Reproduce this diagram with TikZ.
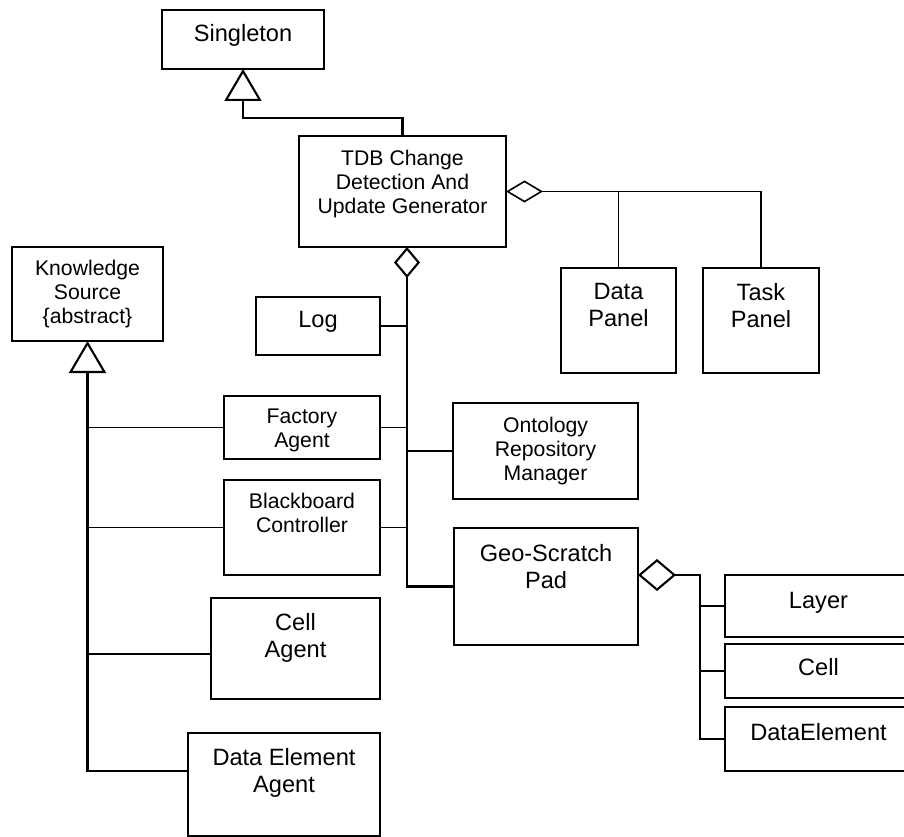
\documentclass[tikz,border=0pt]{standalone}
\usepackage{fontspec}
\setmainfont{Liberation Sans}
\usetikzlibrary{positioning,arrows.meta}
\newcommand{\bigText}{\fontsize{23.6}{27}\selectfont}
\newcommand{\smallText}{\fontsize{21.2}{24}\selectfont}
\tikzset{
  class box/.style={draw,line width=2pt,inner sep=0pt,outer sep=0pt},
  class name/.style={inner sep=0pt,align=center,font=\bigText},
  small name/.style={class name,font=\smallText},
  link/.style={line width=1.6pt},
  trunk/.style={line width=2.1pt},
}

\begin{document}
\begin{tikzpicture}[x=1pt,y=-1pt]
   \clip (0,0) rectangle (904,837);
   \fill[white] (0,0) rectangle (904,837);

   % NODES
   \node[class box,minimum width=162pt,minimum height=59pt] (singleton) at (243,39.5) {};
   \node[class box,minimum width=207pt,minimum height=111pt] (tdb) at (402.5,191.5) {};
   \node[class box,minimum width=151pt,minimum height=94pt] (ks) at (87.5,294) {}; % abstract
   \node[class box,minimum width=124pt,minimum height=58pt] (log) at (318,326) {};
   \node[class box,minimum width=156pt,minimum height=63pt] (factory) at (302,427.5) {};
   \node[class box,minimum width=185pt,minimum height=96pt] (onto) at (545.5,451) {};
   \node[class box,minimum width=156pt,minimum height=95pt] (bboard) at (302,527.5) {};
   \node[class box,minimum width=184pt,minimum height=117pt] (geo) at (546,586.5) {};
   \node[class box,minimum width=115pt,minimum height=105pt] (dataPanel) at (618.5,320.5) {};
   \node[class box,minimum width=116pt,minimum height=105pt] (taskPanel) at (761,320.5) {};
   \node[class box,minimum width=187pt,minimum height=62pt] (layer) at (818.5,606) {};
   \node[class box,minimum width=187pt,minimum height=54pt] (cell) at (818.5,671) {};
   \node[class box,minimum width=187pt,minimum height=64pt] (dataElem) at (818.5,739) {};
   \node[class box,minimum width=169pt,minimum height=101pt] (cellAgent) at (295.5,648.5) {};
   \node[class box,minimum width=192pt,minimum height=103pt] (dataElemAgent) at (284,784.5) {};

   % NAMES
   \node[class name,below=14pt of singleton.north] (singletonTxt) {Singleton};
   \node[small name,below=14pt of tdb.north] (tdbTxt) {TDB Change\\Detection And\\Update Generator};
   \node[small name,below=13pt of ks.north] (ksTxt) {Knowledge\\Source\\\{abstract\}};
   \node[class name,below=14pt of log.north] (logTxt) {Log};
   \node[small name,below=13pt of factory.north] (factoryTxt) {Factory\\Agent};
   \node[small name,below=14pt of onto.north] (ontoTxt) {Ontology\\Repository\\Manager};
   \node[small name,below=13pt of bboard.north] (bboardTxt) {Blackboard\\Controller};
   \node[class name,below=16pt of geo.north] (geoTxt) {Geo-Scratch\\Pad};
   \node[class name,below=15pt of dataPanel.north] (dataPanelTxt) {Data\\Panel};
   \node[class name,below=15pt of taskPanel.north] (taskPanelTxt) {Task\\Panel};
   \node[class name,below=17pt of layer.north] (layerTxt) {Layer};
   \node[class name,below=14pt of cell.north] (cellTxt) {Cell};
   \node[class name,below=16pt of dataElem.north] (dataElemTxt) {DataElement};
   \node[class name,below=15pt of cellAgent.north] (cellAgentTxt) {Cell\\Agent};
   \node[class name,below=15pt of dataElemAgent.north] (dataElemAgentTxt) {Data Element\\Agent};

   % JOINS
   \coordinate (tdbJoin) at ([xshift=4.5pt]tdb.south);
   \coordinate (geoJoin) at ([yshift=11.5pt]geo.east);
   \coordinate (cellAgentJoin) at ([yshift=-5.5pt]cellAgent.west);
   \coordinate (dataElemAgentJoin) at ([yshift=13.5pt]dataElemAgent.west);

   % DRAW TREE
   \draw[trunk,-{Triangle[open,length=32pt,width=37pt]}] (tdb.north) -- ++(0,-18) -| (singleton.south);

   \draw[link,-{Diamond[open,length=37pt,width=22pt]}] (taskPanel.north) |- (tdb.east);
   \draw[link] (dataPanel.north) -- (dataPanel.north |- tdb.east);

   \draw[trunk,-{Diamond[open,length=31pt,width=26pt]}] (geo.west) -| (tdbJoin);
   \draw[link] (log.east) -- (log.east -| tdbJoin);
   \draw[link] (factory.east) -- (factory.east -| tdbJoin);
   \draw[link] (onto.west) -- (onto.west -| tdbJoin);
   \draw[link] (bboard.east) -- (bboard.east -| tdbJoin);

   \draw[trunk,-{Triangle[open,length=32pt,width=37pt]}] (dataElemAgentJoin) -| (ks.south);
   \draw[link] (factory.west) -- (factory.west -| ks.south);
   \draw[link] (bboard.west) -- (bboard.west -| ks.south);
   \draw[link] (cellAgentJoin) -- (cellAgentJoin -| ks.south);

   \draw[trunk,-{Diamond[open,length=38pt,width=32pt]}] (dataElem.west) -- ++(-25,0) |- (geoJoin);
   \draw[link] (layer.west) -- ++(-25,0);
   \draw[link] (cell.west) -- ++(-25,0);

\end{tikzpicture}
\end{document}
